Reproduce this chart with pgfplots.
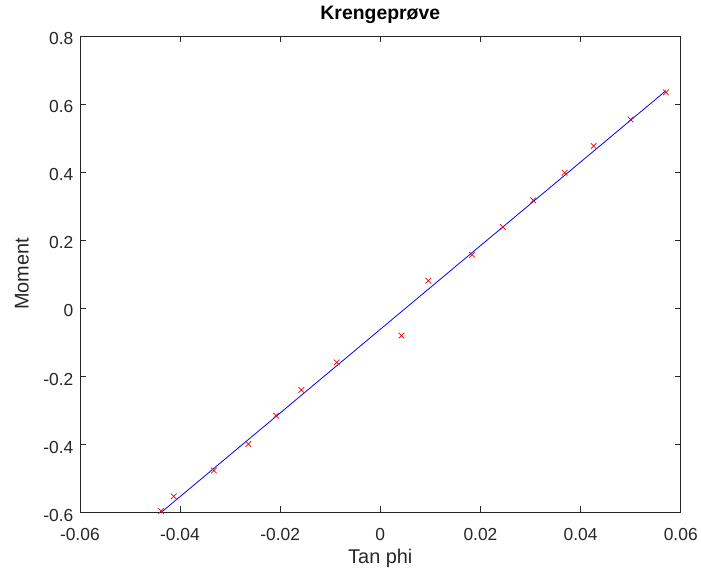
\documentclass[border=0pt]{standalone}
\usepackage{pgfplots}
\pgfplotsset{compat=1.18}
\usepackage{fontspec}
\setmainfont{Liberation Sans}
\usetikzlibrary{calc}
\definecolor{mgray}{rgb}{0.15,0.15,0.15}
\begin{document}
\begin{tikzpicture}
\begin{axis}[
  scale only axis, width=602bp, height=477bp,
  xmin=-0.06, xmax=0.06, ymin=-0.6, ymax=0.8,
  scaled x ticks=false, scaled y ticks=false,
  xtick={-0.06,-0.04,-0.02,0,0.02,0.04,0.06},
  xticklabels={-0.06,-0.04,-0.02,0,0.02,0.04,0.06},
  ytick={-0.6,-0.4,-0.2,0,0.2,0.4,0.6,0.8},
  yticklabels={-0.6,-0.4,-0.2,0,0.2,0.4,0.6,0.8},
  tick align=inside, major tick length=6bp,
  axis line style={mgray, line width=0.7bp},
  tick style={mgray, line width=0.6bp},
  ticklabel style={font=\fontsize{17.5}{19}\selectfont, text=mgray},
  xticklabel style={yshift=-13bp},
  yticklabel style={xshift=-3bp, yshift=-3bp},
  xlabel={Tan phi}, ylabel={Moment},
  xlabel style={font=\fontsize{20}{22}\selectfont, text=mgray, at={(axis description cs:0.5,0)}, anchor=center, yshift=-46bp},
  ylabel style={font=\fontsize{20}{22}\selectfont, text=mgray, at={(axis description cs:-0.0963,0.5)}, anchor=center},
  title={Krengeprøve},
  title style={font=\fontsize{19.5}{21}\selectfont\bfseries, at={(axis description cs:0.5,1)}, anchor=center, yshift=15bp},
]
\addplot[only marks, mark=x, color=red, mark size=4bp, mark options={line width=0.7bp}] table {
x y
-0.04376 -0.597
-0.04126 -0.554
-0.03323 -0.4776
-0.02636 -0.3998
-0.02083 -0.3166
-0.01575 -0.241
-0.0087 -0.160
0.00424 -0.081
0.00959 0.080
0.01833 0.1567
0.02449 0.2377
0.03055 0.3166
0.0368 0.3977
0.0426 0.4765
0.050 0.5544
0.05705 0.634
};
\addplot[color=blue, line width=0.8bp] coordinates {(-0.04376,-0.601) (0.05705,0.639)};
\coordinate (ll) at (rel axis cs:0,0);
\coordinate (ur) at (rel axis cs:1,1);
\end{axis}
\path ($(ll)+(-80bp,-56bp)$) rectangle ($(ur)+(19bp,36bp)$);
\end{tikzpicture}
\end{document}
